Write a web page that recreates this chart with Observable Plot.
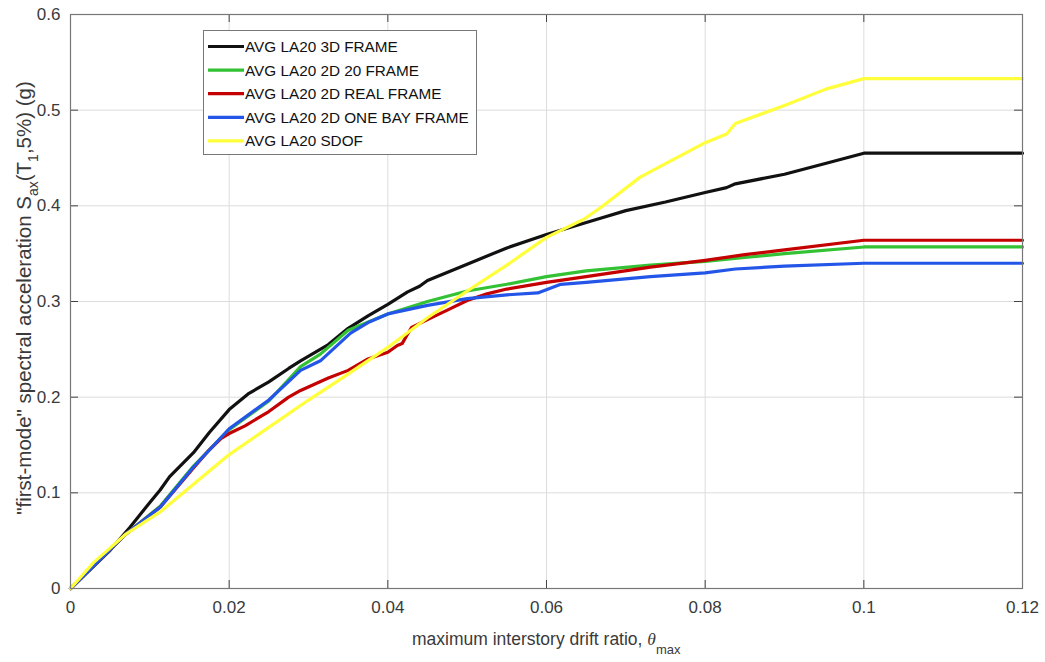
<!DOCTYPE html>
<html>
<head>
<meta charset="utf-8">
<script src="https://cdn.jsdelivr.net/npm/d3@7"></script>
<script src="https://cdn.jsdelivr.net/npm/@observablehq/plot@0.6"></script>
<style>
  html, body { margin: 0; padding: 0; background: #fff; }
  #chart svg { display: block; }
</style>
</head>
<body>
<div id="chart"></div>
<script>
// ---- data ----
const seriesNames = [
  "AVG LA20 3D FRAME",
  "AVG LA20 2D 20 FRAME",
  "AVG LA20 2D REAL FRAME",
  "AVG LA20 2D ONE BAY FRAME",
  "AVG LA20 SDOF"
];
const seriesColors = ["#111111", "#33c233", "#c40000", "#2356e8", "#ffff3c"];

const frame3D_x = [0, 0.005, 0.0075, 0.01, 0.0113, 0.0125, 0.0155, 0.0175, 0.02, 0.0225, 0.025, 0.0275, 0.029, 0.0325, 0.035, 0.0375, 0.04, 0.0425, 0.044, 0.045, 0.05, 0.055, 0.06, 0.0668, 0.07, 0.075, 0.08, 0.0827, 0.0838, 0.09, 0.0955, 0.1, 0.12];
const frame3D_y = [0, 0.040, 0.064, 0.090, 0.103, 0.117, 0.142, 0.163, 0.187, 0.204, 0.216, 0.230, 0.238, 0.255, 0.272, 0.285, 0.297, 0.310, 0.316, 0.322, 0.339, 0.356, 0.370, 0.387, 0.395, 0.404, 0.414, 0.419, 0.423, 0.433, 0.445, 0.455, 0.455];

const frame2D20_x = [0, 0.007, 0.0113, 0.0155, 0.02, 0.025, 0.029, 0.0315, 0.035, 0.04, 0.045, 0.05, 0.055, 0.06, 0.065, 0.0731, 0.08, 0.085, 0.09, 0.1, 0.12];
const frame2D20_y = [0, 0.057, 0.086, 0.128, 0.166, 0.196, 0.232, 0.245, 0.270, 0.287, 0.300, 0.311, 0.318, 0.326, 0.332, 0.338, 0.342, 0.346, 0.350, 0.357, 0.357];

const frameReal_x = [0, 0.007, 0.0113, 0.0155, 0.0175, 0.019, 0.02, 0.022, 0.025, 0.0275, 0.029, 0.0325, 0.035, 0.0375, 0.04, 0.0412, 0.0418, 0.0425, 0.043, 0.045, 0.0475, 0.05, 0.0525, 0.055, 0.06, 0.065, 0.0731, 0.08, 0.085, 0.09, 0.1, 0.12];
const frameReal_y = [0, 0.057, 0.085, 0.126, 0.145, 0.157, 0.162, 0.170, 0.185, 0.200, 0.207, 0.220, 0.228, 0.240, 0.247, 0.254, 0.256, 0.266, 0.273, 0.281, 0.291, 0.301, 0.308, 0.313, 0.320, 0.326, 0.336, 0.343, 0.349, 0.354, 0.364, 0.364];

const frameOneBay_x = [0, 0.007, 0.0113, 0.0155, 0.02, 0.025, 0.029, 0.0315, 0.0353, 0.0375, 0.04, 0.045, 0.05, 0.055, 0.0589, 0.0618, 0.065, 0.0731, 0.08, 0.0838, 0.09, 0.1, 0.12];
const frameOneBay_y = [0, 0.057, 0.085, 0.127, 0.167, 0.197, 0.228, 0.238, 0.267, 0.278, 0.287, 0.296, 0.303, 0.307, 0.309, 0.318, 0.320, 0.326, 0.330, 0.334, 0.337, 0.340, 0.340];

const sdof_x = [0, 0.0029, 0.007, 0.0113, 0.02, 0.03, 0.0337, 0.04, 0.045, 0.05, 0.055, 0.06, 0.0647, 0.0668, 0.0718, 0.08, 0.0827, 0.0838, 0.09, 0.0952, 0.1, 0.12];
const sdof_y = [0, 0.027, 0.057, 0.080, 0.140, 0.197, 0.217, 0.252, 0.283, 0.311, 0.338, 0.367, 0.386, 0.398, 0.430, 0.466, 0.475, 0.486, 0.505, 0.522, 0.533, 0.533];

const xTicks = [0, 0.02, 0.04, 0.06, 0.08, 0.1, 0.12];
const xTickLabels = ["0", "0.02", "0.04", "0.06", "0.08", "0.1", "0.12"];
const yTicks = [0, 0.1, 0.2, 0.3, 0.4, 0.5, 0.6];
const yTickLabels = ["0", "0.1", "0.2", "0.3", "0.4", "0.5", "0.6"];

// ---- build table ----
const allX = [frame3D_x, frame2D20_x, frameReal_x, frameOneBay_x, sdof_x];
const allY = [frame3D_y, frame2D20_y, frameReal_y, frameOneBay_y, sdof_y];
const rows = [];
allX.forEach((xs, i) => xs.forEach((x, j) => rows.push({series: seriesNames[i], x, y: allY[i][j]})));

const W = 1045, H = 662;
const mL = 70, mR = 23, mT = 14, mB = 74;
const FONT = "'Liberation Sans', Arial, sans-serif";

const xTickLen = 0.12 * 8 / (W - mL - mR);
const yTickLen = 0.6 * 8 / (H - mT - mB);

const chart = Plot.plot({
  width: W,
  height: H,
  marginLeft: mL,
  marginRight: mR,
  marginTop: mT,
  marginBottom: mB,
  style: {fontFamily: FONT, fontSize: "17px", background: "#fff", color: "#3a3a3a"},
  x: {domain: [0, 0.12], ticks: xTicks, label: null},
  y: {domain: [0, 0.6], ticks: yTicks, label: null},
  color: {domain: seriesNames, range: seriesColors},
  marks: [
    Plot.gridX(xTicks, {stroke: "#dcdcdc", strokeOpacity: 1, strokeWidth: 1}),
    Plot.gridY(yTicks, {stroke: "#dcdcdc", strokeOpacity: 1, strokeWidth: 1}),
    // inward ticks (bottom, top, left, right)
    Plot.ruleX(xTicks, {y1: 0, y2: yTickLen, stroke: "#444"}),
    Plot.ruleX(xTicks, {y1: 0.6 - yTickLen, y2: 0.6, stroke: "#444"}),
    Plot.ruleY(yTicks, {x1: 0, x2: xTickLen, stroke: "#444"}),
    Plot.ruleY(yTicks, {x1: 0.12 - xTickLen, x2: 0.12, stroke: "#444"}),
    Plot.axisX(xTicks, {tickSize: 0, tickPadding: 12, fontSize: 17, tickFormat: (d) => xTickLabels[xTicks.indexOf(d)], fill: "#3a3a3a"}),
    Plot.axisY(yTicks, {tickSize: 0, tickPadding: 10, fontSize: 17, tickFormat: (d) => yTickLabels[yTicks.indexOf(d)], fill: "#3a3a3a"}),
    Plot.line(rows, {x: "x", y: "y", z: "series", stroke: "series", strokeWidth: 3.2, curve: "linear"}),
    Plot.frame({stroke: "#777", strokeWidth: 1.2})
  ]
});

document.getElementById("chart").appendChild(chart);

// ---- axis titles and legend ----
const svg = d3.select(chart);

// x-axis title
const xt = svg.append("text")
  .attr("x", 412).attr("y", 645)
  .attr("text-anchor", "start")
  .style("font-family", FONT).style("font-size", "17.5px").attr("fill", "#3a3a3a");
xt.append("tspan").text("maximum interstory drift ratio, ");
xt.append("tspan").text("θ").style("font-family", "'Liberation Serif', 'DejaVu Serif', serif").style("font-style", "italic");
xt.append("tspan").text("max").attr("dy", 9).style("font-size", "13px");

// y-axis title
const yt = svg.append("text")
  .attr("transform", "translate(31,298) rotate(-90)")
  .attr("text-anchor", "middle")
  .style("font-family", FONT).style("font-size", "20.5px").attr("fill", "#3a3a3a");
yt.append("tspan").text("\"first-mode\" spectral acceleration S");
yt.append("tspan").text("ax").attr("dy", 7).style("font-size", "14px");
yt.append("tspan").text("(T").attr("dy", -7);
yt.append("tspan").text("1").attr("dy", 7).style("font-size", "14px");
yt.append("tspan").text(",5%) (g)").attr("dy", -7);

// legend
const lg = svg.append("g");
lg.append("rect").attr("x", 203.5).attr("y", 30.5).attr("width", 273).attr("height", 124)
  .attr("fill", "#fff").attr("stroke", "#777").attr("stroke-width", 1);
seriesNames.forEach((name, i) => {
  const cy = 46.5 + i * 23.6;
  lg.append("line").attr("x1", 208).attr("x2", 244).attr("y1", cy).attr("y2", cy)
    .attr("stroke", seriesColors[i]).attr("stroke-width", 3.2);
  lg.append("text").attr("x", 245).attr("y", cy).attr("dy", "0.36em")
    .attr("text-anchor", "start")
    .style("font-family", FONT).style("font-size", "15.3px").attr("fill", "#111").text(name);
});
</script>
</body>
</html>
